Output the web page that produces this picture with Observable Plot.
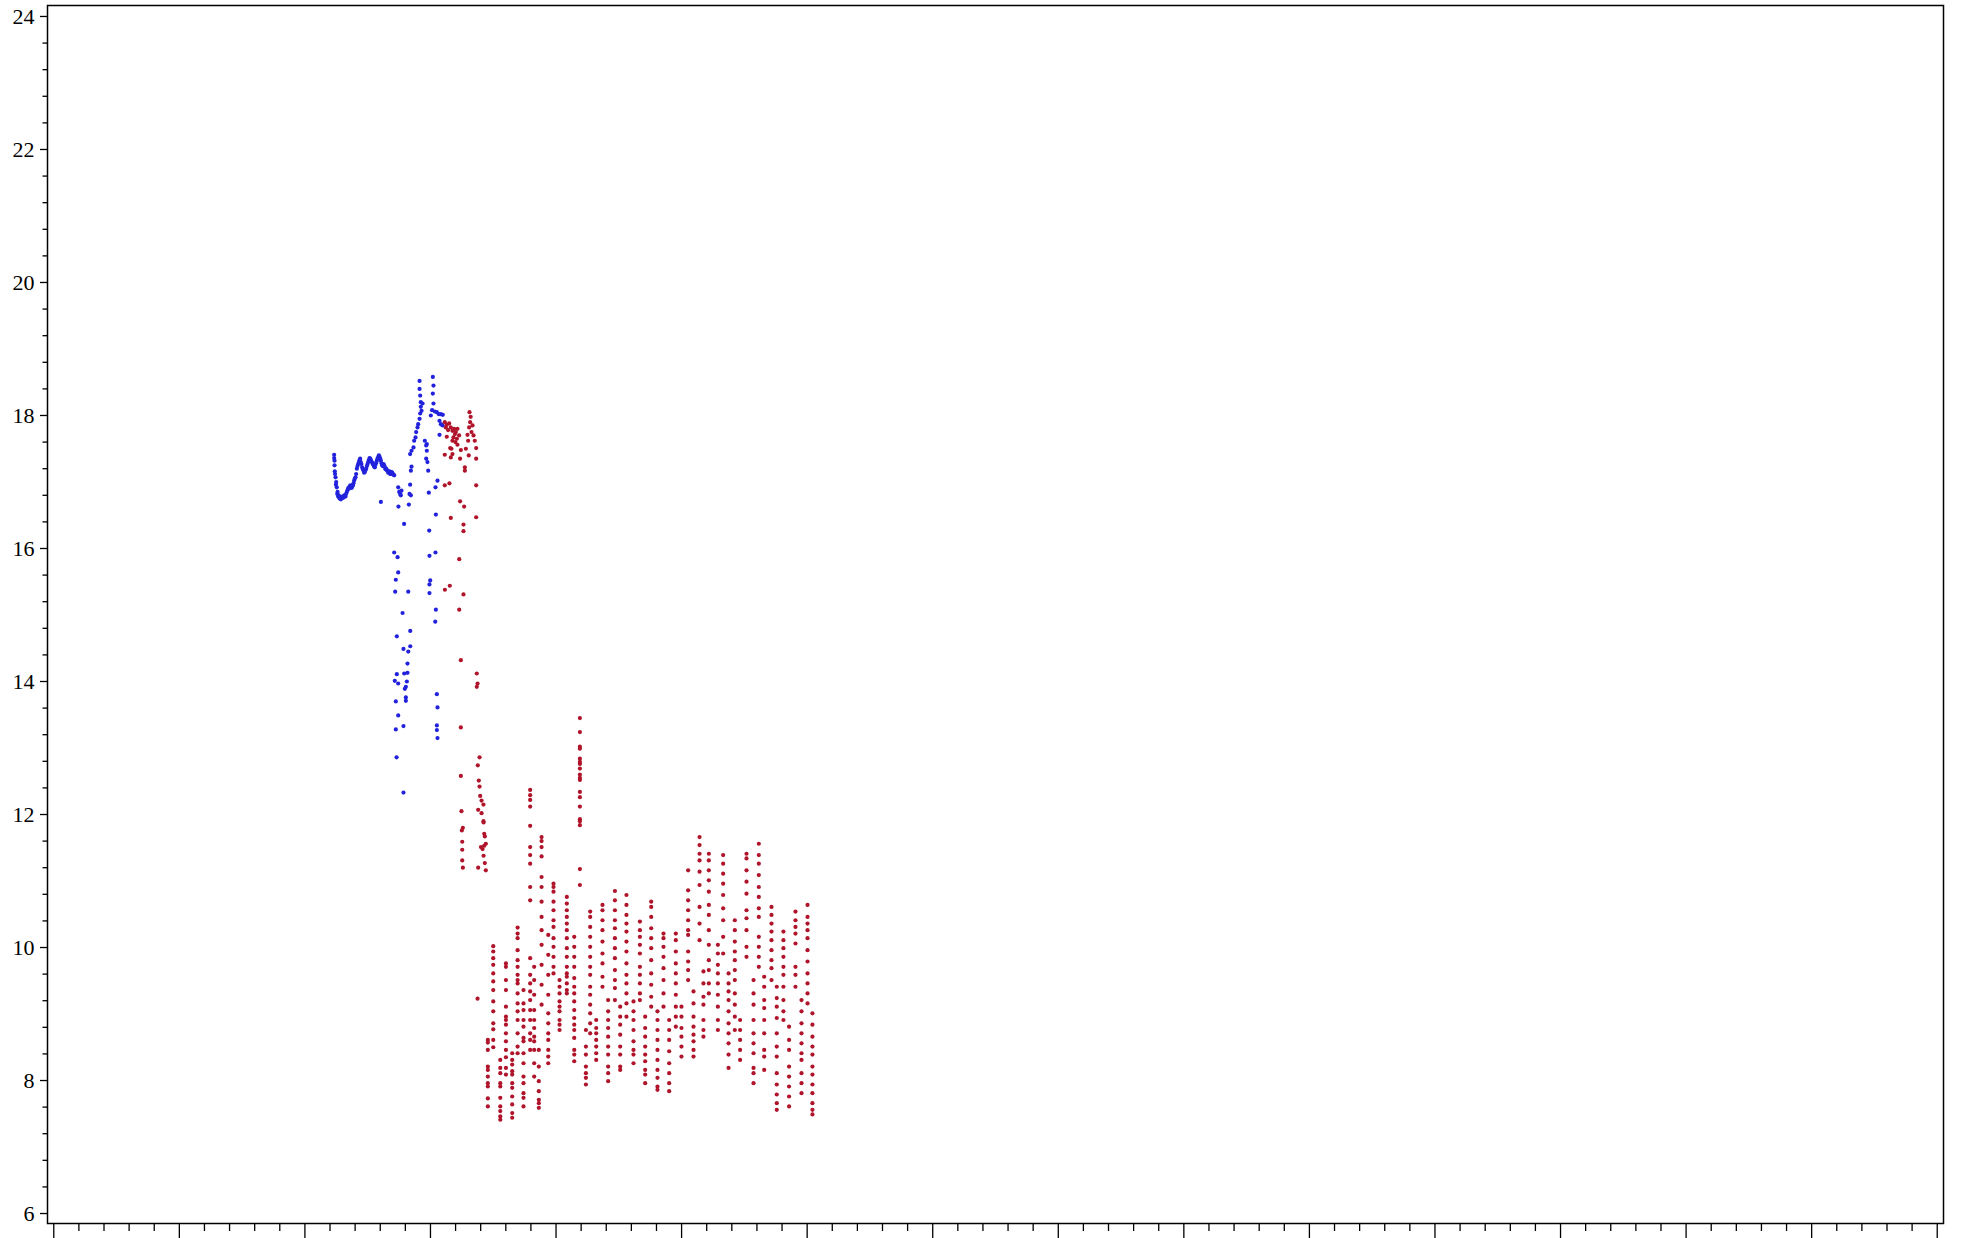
<!DOCTYPE html>
<html><head><meta charset="utf-8">
<script src="https://cdn.jsdelivr.net/npm/d3@7"></script>
<script src="https://cdn.jsdelivr.net/npm/@observablehq/plot@0.6"></script>
<style>html,body{margin:0;padding:0;background:#fff;overflow:hidden}
svg text{font-family:'Liberation Serif','Times New Roman',serif !important;font-size:22px !important;}</style>
</head><body><div id="chart"></div>
<script>
// ---- blue series (x, y) ----
const blueX = [22.33,22.33,22.36,22.38,22.44,22.49,22.54,22.6,22.7,22.81,22.92,23.02,23.13,23.23,23.34,23.45,23.55,23.71,23.82,23.92,24.03,24.14,24.24,24.35,24.45,24.56,24.67,24.77,24.88,24.99,25.09,25.2,25.3,25.41,25.52,25.62,25.73,25.83,25.94,26.05,26.15,26.26,26.37,26.47,26.58,26.68,26.79,26.9,27.0,27.11,
22.36,22.4,22.47,22.58,22.65,22.76,22.87,22.97,23.07,23.18,23.28,23.4,23.5,23.62,23.77,23.87,23.97,24.08,24.19,24.3,24.4,24.5,24.62,24.72,24.83,24.94,25.04,25.15,25.25,25.36,25.47,25.57,25.68,25.78,25.89,26.0,26.1,26.2,26.31,26.42,26.52,26.63,26.74,26.85,26.95,27.06,
27.43,27.51,27.59,27.69,27.64,26.05,27.45,27.9,28.28,28.38,28.33,28.44,
28.44,28.49,28.38,28.49,
28.65,28.7,28.81,28.86,28.97,29.02,29.13,29.18,29.23,29.23,29.18,29.13,29.13,29.29,29.37,
29.55,29.66,29.71,29.66,29.76,29.82,29.71,29.87,
30.19,30.24,30.19,30.24,30.13,30.03,
30.35,30.51,30.67,30.83,30.98,30.72,30.83,30.96,30.72,
30.56,30.4,30.43,29.9,
27.11,27.38,27.43,27.24,27.19,28.23,29.92,29.98,29.92,29.92,30.4,
27.78,30.43,30.38,28.39,27.32,28.39,27.85,28.23,28.17,27.32,27.91,28.17,27.16,27.43,28.12,28.04,27.96,28.04,28.04,27.24,27.43,27.85,27.24,30.51,30.56,30.51,30.51,30.56,27.3,27.85];
const blueY = [17.41,17.36,17.32,17.16,17.07,17.00,16.92,16.85,16.80,16.76,16.77,16.76,16.80,16.78,16.85,16.91,16.93,16.91,16.95,17.02,17.07,17.20,17.27,17.33,17.30,17.22,17.17,17.15,17.20,17.27,17.33,17.35,17.31,17.27,17.23,17.26,17.32,17.37,17.38,17.32,17.25,17.27,17.22,17.20,17.17,17.15,17.12,17.15,17.12,17.10,
17.25,17.12,16.96,16.82,16.78,16.75,16.74,16.78,16.77,16.79,16.82,16.88,16.90,16.95,16.93,16.98,17.05,17.12,17.24,17.30,17.35,17.27,17.19,17.14,17.18,17.24,17.30,17.36,17.33,17.29,17.25,17.22,17.29,17.35,17.40,17.35,17.28,17.24,17.25,17.19,17.18,17.14,17.16,17.12,17.14,17.11,
16.92,16.85,16.82,16.87,16.80,16.70,16.63,16.37,16.66,16.96,16.82,16.80,
17.17,17.23,17.42,17.47,
17.52,17.62,17.67,17.75,17.82,17.87,17.95,18.03,18.13,18.20,18.30,18.40,18.52,18.07,18.18,
17.62,17.55,17.47,17.35,17.30,17.17,17.57,16.84,
18.58,18.45,18.33,18.18,18.08,18.00,
18.06,18.05,18.02,18.02,18.01,17.92,17.87,17.85,17.71,
17.02,16.92,16.51,16.27,
15.94,15.87,15.64,15.53,15.35,15.35,15.89,15.52,15.46,15.33,15.94,
15.03,15.08,14.90,14.76,14.68,14.53,14.49,14.45,14.27,14.11,14.12,14.13,14.01,13.97,14.00,13.92,13.89,13.76,13.71,13.70,13.49,13.33,13.28,13.81,13.61,13.34,13.27,13.15,12.86,12.33];

// ---- red series: scattered points (x, y) ----
const redX = [31.14,31.3,31.49,31.22,31.62,31.75,31.89,32.02,31.83,32.1,31.75,31.67,31.57,31.75,31.62,31.14,31.3,32.36,32.42,32.74,32.74,32.82,32.95,33.08,33.16,33.11,33.27,33.43,33.53,33.64,33.64,33.0,31.14,31.51,33.64,32.36,32.68,31.62,33.64,32.63,32.63,32.15,32.28,31.99,32.15,
31.4,31.95,33.2,33.35,33.05,
32.29,31.15,31.54,32.63,
32.29,32.42,32.42,32.42,32.47,32.58,32.5,32.53,32.53,32.53,32.58,
33.69,33.75,33.69,33.91,33.77,33.85,33.91,33.96,34.07,34.22,33.8,34.07,34.22,
34.23,34.28,34.33,34.02,34.28,34.41,34.15,34.23,34.33,34.41,33.8,
33.75];
const redY = [17.90,17.86,17.88,17.82,17.82,17.77,17.80,17.75,17.67,17.65,17.62,17.50,17.51,17.42,17.37,17.41,17.68,17.35,17.48,17.22,17.17,17.50,17.71,17.82,17.90,18.05,17.75,17.70,17.62,17.51,17.35,17.62,16.95,16.98,16.95,16.71,16.63,16.46,16.47,16.36,16.26,17.80,17.70,17.60,17.56,
17.78,17.72,17.98,17.85,17.40,
15.84,15.38,15.44,15.31,
15.08,14.32,13.31,12.58,12.05,11.8,11.76,11.59,11.47,11.31,11.2,
14.12,13.97,13.92,12.86,12.74,12.51,12.42,12.28,12.21,12.15,12.07,12.02,11.9,
11.88,11.71,11.67,11.51,11.53,11.56,11.48,11.38,11.27,11.16,11.2,
9.23];

// ---- red series: oscillation strips (x of strip, y values in it) ----
const redStripX = [34.57,35.0,35.56,36.01,36.51,36.94,37.41,37.94,38.26,38.63,38.85,39.38,39.8,40.28,40.86,41.45,41.9,42.38,42.72,43.2,43.7,44.15,44.69,45.11,45.61,46.17,46.68,47.1,47.58,48.08,48.56,49.01,49.54,49.99,50.52,50.95,51.43,51.74,52.17,52.89,53.31,53.74,54.24,54.66,55.17,55.73,56.15,56.58,57.16,57.58,58.11,58.56,59.07,59.55,60.03,60.42];
const redStripY = [
[8.61,8.57,8.46,8.21,8.16,8.06,7.96,7.91,7.73,7.61],
[10.02,9.94,9.84,9.74,9.61,9.49,9.36,9.19,9.04,8.86,8.77,8.61,8.5],
[8.31,8.19,8.11,7.96,7.91,7.74,7.61,7.54,7.46,7.41],
[9.76,9.71,9.51,9.36,9.11,8.96,8.91,8.84,8.71,8.59,8.46,8.35,8.19,8.09],
[8.41,8.31,8.24,8.14,8.09,7.96,7.89,7.76,7.64,7.51,7.44],
[10.3,10.21,10.14,9.96,9.81,9.71,9.59,9.51,9.46,9.31,9.16,9.04,8.91,8.71,8.51,8.41],
[9.36,9.16,9.06,8.91,8.81,8.64,8.59,8.41,8.26,8.06,7.96,7.81,7.74,7.61],
[12.37,12.29,12.22,12.12,11.83,11.51,11.39,11.26,10.91,10.71,9.84,9.59,9.46,9.34,9.21,9.06,8.91,8.71,8.61,8.46],
[9.71,9.51,9.29,9.06,8.91,8.79,8.66,8.59,8.46,8.26,8.06],
[8.46,8.21,7.99,7.84,7.71,7.66,7.59],
[11.66,11.6,11.51,11.37,11.06,10.91,10.69,10.46,10.26,10.04,9.74,9.44,9.14],
[10.19,9.89,9.59,9.29,9.01,8.86,8.71,8.61,8.46,8.36,8.26],
[10.96,10.91,10.84,10.69,10.56,10.41,10.31,10.14,10.01,9.86,9.71,9.61],
[9.51,9.41,9.31,9.19,9.11,9.04,8.91,8.84,8.76],
[10.76,10.66,10.56,10.46,10.36,10.26,10.14,9.99,9.86,9.71,9.61,9.56,9.46,9.36,9.31],
[10.16,10.01,9.86,9.71,9.54,9.41,9.31,9.19,9.06,8.94,8.84,8.76,8.64,8.46,8.39,8.29],
[13.45,13.24,13.02,12.99,12.84,12.79,12.76,12.69,12.6,12.55,12.52,12.34,12.26,12.12,11.93,11.9,11.84,11.18,10.94],
[8.76,8.51,8.39,8.21,8.11,8.04,7.94],
[10.54,10.46,10.31,10.16,10.01,9.86,9.71,9.59,9.41,9.29,9.14,9.01,8.86,8.71],
[8.91,8.79,8.71,8.61,8.51,8.41,8.31],
[10.64,10.56,10.41,10.26,10.09,9.91,9.76,9.56,9.41],
[9.21,9.04,8.91,8.79,8.66,8.51,8.39,8.21,8.11,7.99],
[10.85,10.71,10.56,10.41,10.29,10.14,9.99,9.84,9.66,9.51,9.39,9.21],
[9.11,8.96,8.84,8.69,8.51,8.39,8.21,8.16],
[10.79,10.64,10.49,10.36,10.24,10.09,9.94,9.76,9.59,9.46,9.31,9.16,8.96],
[9.19,9.04,8.91,8.76,8.59,8.46,8.39,8.26],
[10.39,10.26,10.16,10.04,9.91,9.71,9.59,9.46,9.31,9.21],
[8.96,8.79,8.66,8.51,8.39,8.29,8.16,8.09,7.96],
[10.69,10.61,10.46,10.29,10.14,9.99,9.81,9.61,9.44,9.26,9.11],
[9.04,8.91,8.76,8.61,8.46,8.31,8.16,8.04,7.91,7.86],
[10.21,10.14,10.01,9.86,9.69,9.51,9.31,9.11],
[8.91,8.76,8.61,8.44,8.26,8.11,7.96,7.84],
[10.21,10.11,9.94,9.76,9.61,9.46,9.29,9.11,8.96,8.81],
[9.11,8.96,8.79,8.66,8.51,8.36],
[11.16,10.86,10.71,10.56,10.41,10.26,10.19,9.94,9.79,9.66,9.51],
[9.34,9.16,8.96,8.81,8.69,8.59,8.46,8.36],
[11.66,11.54,11.41,11.31,11.14,10.94,10.61,10.36,10.11],
[9.64,9.46,9.26,9.14,8.91,8.76,8.66],
[11.41,11.31,11.16,11.01,10.84,10.64,10.49,10.26,10.04,9.81,9.66,9.46,9.31],
[10.04,9.91,9.74,9.61,9.46,9.29,9.11,8.91,8.76],
[11.39,11.26,11.11,10.96,10.79,10.59,10.41,10.16,9.91],
[9.61,9.46,9.34,9.21,9.04,8.86,8.71,8.56,8.39,8.19],
[10.41,10.26,10.09,9.94,9.81,9.66,9.51,9.31,9.14,8.96,8.76],
[8.91,8.76,8.61,8.46,8.31],
[11.41,11.34,11.16,10.99,10.81,10.56,10.44,10.26,10.01,9.86],
[9.51,9.31,9.14,8.91,8.71,8.56,8.41,8.19,8.11,7.96],
[11.56,11.39,11.26,11.09,10.91,10.76,10.59,10.46,10.16,10.01,9.86,9.71],
[9.56,9.41,9.21,9.09,8.91,8.71,8.46,8.36,8.16],
[10.61,10.49,10.36,10.24,10.11,9.96,9.81,9.69,9.51],
[9.41,9.24,9.11,8.94,8.71,8.51,8.36,8.11,7.94,7.79,7.66,7.56],
[10.24,10.11,9.99,9.86,9.71,9.59,9.41,9.21,9.04,8.91],
[8.81,8.61,8.46,8.21,8.06,7.91,7.76,7.61],
[10.54,10.41,10.31,10.21,10.06,9.71,9.59,9.41],
[9.21,9.04,8.86,8.71,8.56,8.41,8.31,8.11,7.96,7.81],
[10.64,10.46,10.36,10.26,10.14,9.96,9.79,9.61,9.46,9.31,9.16],
[9.01,8.84,8.66,8.51,8.39,8.21,8.09,7.94,7.81,7.66,7.56,7.49]
];

// ---- ticks ----
const yMajorTicks = [6,8,10,12,14,16,18,20,22,24];
const yMinorTicks = [6.4,6.8,7.2,7.6,8.4,8.8,9.2,9.6,10.4,10.8,11.2,11.6,12.4,12.8,13.2,13.6,14.4,14.8,15.2,15.6,16.4,16.8,17.2,17.6,18.4,18.8,19.2,19.6,20.4,20.8,21.2,21.6,22.4,22.8,23.2,23.6];
const xMajorTicks = [0,10,20,30,40,50,60,70,80,90,100,110,120,130,140,150];
const xMinorTicks = [2,4,6,8,12,14,16,18,22,24,26,28,32,34,36,38,42,44,46,48,52,54,56,58,62,64,66,68,72,74,76,78,82,84,86,88,92,94,96,98,102,104,106,108,112,114,116,118,122,124,126,128,132,134,136,138,142,144,146,148];

const blue = blueX.map((x, i) => ({x, y: blueY[i]}));
const red = redX.map((x, i) => ({x, y: redY[i]}));
redStripX.forEach((x, i) => redStripY[i].forEach(y => red.push({x, y})));

const noLabel = () => "";
const chart = Plot.plot({
  width: 1982, height: 1238,
  marginLeft: 47, marginRight: 39, marginTop: 5, marginBottom: 15,
  x: {domain: [-0.5, 150.5], label: null},
  y: {domain: [5.85, 24.165], label: null},
  style: {fontFamily: "'Liberation Serif', 'Times New Roman', serif", fontSize: "22px", color: "black", background: "white"},
  marks: [
    Plot.axisY(yMinorTicks, {anchor: "left", tickSize: 4.5, tickFormat: noLabel, strokeWidth: 1.3, label: null}),
    Plot.axisY(yMajorTicks, {anchor: "left", tickSize: 7, tickPadding: 6, tickFormat: d => String(d), fontSize: 22, strokeWidth: 1.3, label: null}),
    Plot.axisX(xMinorTicks, {anchor: "bottom", tickSize: 8, tickFormat: noLabel, strokeWidth: 1.3, label: null}),
    Plot.axisX(xMajorTicks, {anchor: "bottom", tickSize: 16, tickFormat: noLabel, strokeWidth: 1.3, label: null}),
    Plot.dot(blue, {x: "x", y: "y", r: 2.1, fill: "#2222dd", stroke: null}),
    Plot.dot(red, {x: "x", y: "y", r: 2.1, fill: "#b0142a", stroke: null}),
    Plot.frame({stroke: "black", strokeWidth: 1.5})
  ]
});
document.getElementById("chart").appendChild(chart);
</script>
</body></html>
